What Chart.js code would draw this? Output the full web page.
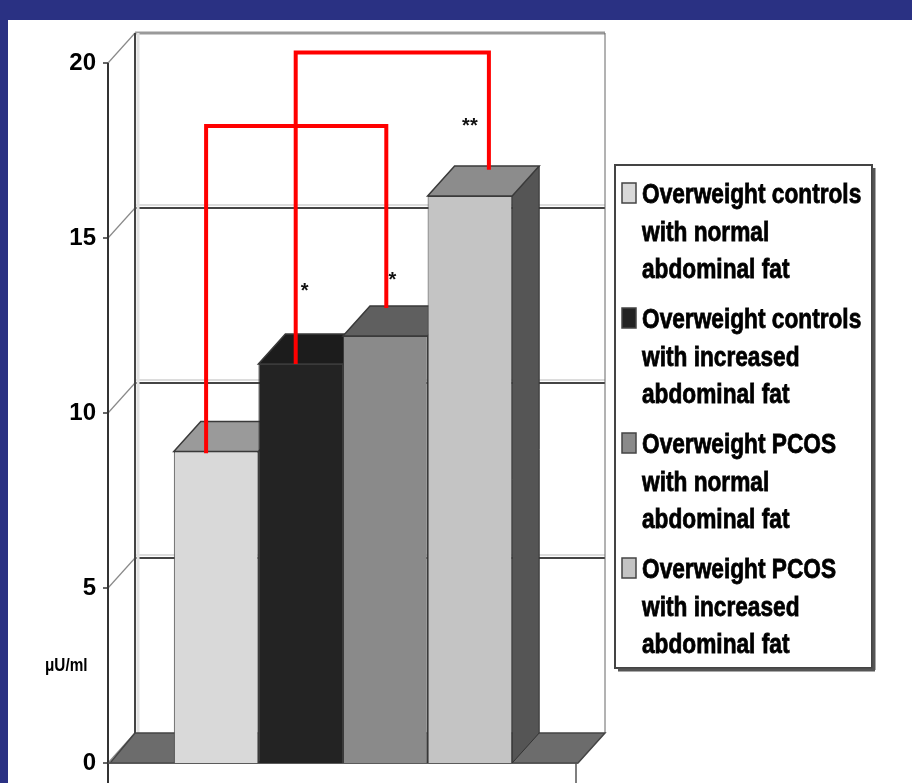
<!DOCTYPE html>
<html>
<head>
<meta charset="utf-8">
<script src="https://cdn.jsdelivr.net/npm/chart.js@4.4.1/dist/chart.umd.min.js"></script>
<style>
html, body { margin: 0; padding: 0; background: #2a3183; overflow: hidden; }
#wrap { width: 912px; height: 783px; }
</style>
</head>
<body>
<div id="wrap"><canvas id="c" width="912" height="783"></canvas></div>
<script>
// data
const groupLabels = [
    ['Overweight controls', 'with normal', 'abdominal fat'],
    ['Overweight controls', 'with increased', 'abdominal fat'],
    ['Overweight PCOS', 'with normal', 'abdominal fat'],
    ['Overweight PCOS', 'with increased', 'abdominal fat']
];
const insulinValues = [8.9, 11.4, 12.2, 16.2];
const yTicks = [0, 5, 10, 15, 20];
const unitLabel = 'μU/ml';
// significance brackets: from bar, to bar, in axis units
const bracketFrom = [0, 1];
const bracketTo = [2, 3];
const bracketStart = [8.85, 11.4];
const bracketTop = [18.2, 20.3];
const bracketEnd = [13.0, 16.95];
const starBar = [1, 2, 3];
const starValue = [13.6, 13.9, 18.3];
const starText = ['*', '*', '**'];

// styles
const frontColors = ['#d9d9d9', '#232323', '#8a8a8a', '#c4c4c4'];
const topColors = ['#9a9a9a', '#1c1c1c', '#5f5f5f', '#8c8c8c'];
const sideColors = ['#777777', '#111111', '#4a4a4a', '#555555'];
const bracketShift = [-10, -5, 1, 19];
const starShift = [5, 4, 7, 0];
const DX = 27, DY = -30;
const FONT = '"Liberation Sans", Arial, sans-serif';

function poly(ctx, pts, fill, stroke, lw) {
    ctx.beginPath();
    ctx.moveTo(pts[0][0], pts[0][1]);
    for (let k = 1; k < pts.length; k++) ctx.lineTo(pts[k][0], pts[k][1]);
    ctx.closePath();
    if (fill) { ctx.fillStyle = fill; ctx.fill(); }
    if (stroke) { ctx.strokeStyle = stroke; ctx.lineWidth = lw || 1; ctx.stroke(); }
}
function line(ctx, x1, y1, x2, y2, color, lw) {
    ctx.beginPath();
    ctx.moveTo(x1, y1);
    ctx.lineTo(x2, y2);
    ctx.strokeStyle = color;
    ctx.lineWidth = lw;
    ctx.stroke();
}

const scene = {
    id: 'scene',
    beforeDraw(chart) {
        const ctx = chart.ctx;
        const {left, right} = chart.chartArea;
        const ys = chart.scales.y;
        const base = ys.getPixelForValue(0);
        ctx.save();
        ctx.fillStyle = '#2a3183';
        ctx.fillRect(0, 0, chart.width, chart.height);
        ctx.fillStyle = '#ffffff';
        ctx.fillRect(8, 20, chart.width - 8, chart.height - 20);

        const top = ys.getPixelForValue(20);
        // back wall grid lines
        yTicks.forEach(v => {
            const py = ys.getPixelForValue(v) + DY;
            if (v === 20) {
                line(ctx, left + DX, py, right + DX, py, '#9a9a9a', 3);
            } else if (v > 0) {
                line(ctx, left + DX, py - 3, right + DX, py - 3, '#dcdcdc', 2);
                line(ctx, left + DX, py, right + DX, py, '#444444', 2);
            }
            // side wall diagonals and ticks
            line(ctx, left, ys.getPixelForValue(v), left + DX, py, '#8a8a8a', 1.2);
            line(ctx, left - 5, ys.getPixelForValue(v), left, ys.getPixelForValue(v), '#333333', 1.5);
        });
        // back wall edges
        line(ctx, left + DX + 3, top + DY, left + DX + 3, base + DY, '#e2e2e2', 3);
        line(ctx, left + DX, top + DY, left + DX, base + DY, '#444444', 2);
        line(ctx, right + DX, top + DY, right + DX, base + DY, '#666666', 1);
        // floor
        poly(ctx, [[left + 2, base], [right, base], [right + DX, base + DY], [left + DX, base + DY]], '#6c6c6c', '#444444', 1.5);
        // front axis and category edge ticks
        line(ctx, left, top, left, chart.height, '#333333', 2);
        line(ctx, right - 2, base, right - 2, chart.height, '#555555', 1.5);
        line(ctx, left, base, right, base, '#555555', 1.5);
        ctx.restore();
    },
    beforeDatasetsDraw(chart) {
        const ctx = chart.ctx;
        ctx.save();
        chart.data.datasets.forEach((ds, i) => {
            const bar = chart.getDatasetMeta(i).data[0];
            const p = bar.getProps(['x', 'y', 'base', 'width'], true);
            const l = p.x - p.width / 2, r = p.x + p.width / 2;
            poly(ctx, [[r, p.y], [r + DX, p.y + DY], [r + DX, p.base + DY], [r, p.base]], sideColors[i], '#333333', 1);
            poly(ctx, [[l, p.y], [l + DX, p.y + DY], [r + DX, p.y + DY], [r, p.y]], topColors[i], '#3a3a3a', 1.5);
        });
        ctx.restore();
    },
    afterDatasetsDraw(chart) {
        const ctx = chart.ctx;
        const ys = chart.scales.y;
        const cx = i => chart.getDatasetMeta(i).data[0].x;
        ctx.save();
        ctx.lineJoin = 'miter';
        ctx.lineCap = 'butt';
        bracketFrom.forEach((a, k) => {
            const b = bracketTo[k];
            const xa = cx(a) + bracketShift[a], xb = cx(b) + bracketShift[b];
            ctx.beginPath();
            ctx.moveTo(xa, ys.getPixelForValue(bracketStart[k]));
            ctx.lineTo(xa, ys.getPixelForValue(bracketTop[k]));
            ctx.lineTo(xb, ys.getPixelForValue(bracketTop[k]));
            ctx.lineTo(xb, ys.getPixelForValue(bracketEnd[k]));
            ctx.strokeStyle = '#ff0000';
            ctx.lineWidth = 4;
            ctx.stroke();
        });
        ctx.fillStyle = '#111111';
        ctx.font = 'bold 20px ' + FONT;
        ctx.textAlign = 'center';
        ctx.textBaseline = 'middle';
        starBar.forEach((b, k) => {
            ctx.fillText(starText[k], cx(b) + starShift[b], ys.getPixelForValue(starValue[k]) + 4);
        });
        ctx.restore();
    },
    afterDraw(chart) {
        const ctx = chart.ctx;
        ctx.save();
        // legend box
        const bx = 615, by = 165, bw = 257, bh = 503;
        ctx.fillStyle = '#ffffff';
        ctx.fillRect(bx, by, bw, bh);
        ctx.strokeStyle = '#444444';
        ctx.lineWidth = 2;
        ctx.strokeRect(bx, by, bw, bh);
        line(ctx, bx + bw + 2, by + 3, bx + bw + 2, by + bh + 2, '#555555', 3);
        line(ctx, bx + 3, by + bh + 2, bx + bw + 3, by + bh + 2, '#555555', 3);
        ctx.font = 'bold 28px ' + FONT;
        ctx.textBaseline = 'alphabetic';
        groupLabels.forEach((lines, i) => {
            const y0 = 203 + i * 125;
            ctx.fillStyle = frontColors[i];
            ctx.fillRect(622, y0 - 20, 14, 20);
            ctx.strokeStyle = '#444444';
            ctx.lineWidth = 1.5;
            ctx.strokeRect(622, y0 - 20, 14, 20);
            ctx.fillStyle = '#000000';
            ctx.strokeStyle = '#000000';
            ctx.lineWidth = 0.8;
            lines.forEach((t, j) => {
                ctx.save();
                ctx.translate(642, y0 + j * 37.5);
                ctx.scale(0.81, 1);
                ctx.fillText(t, 0, 0);
                ctx.strokeText(t, 0, 0);
                ctx.restore();
            });
        });
        // unit label
        ctx.save();
        ctx.translate(45, 671);
        ctx.scale(0.85, 1);
        ctx.font = 'bold 18px ' + FONT;
        ctx.fillStyle = '#000000';
        ctx.fillText(unitLabel, 0, 0);
        ctx.restore();
        ctx.restore();
    }
};

const ctx = document.getElementById('c').getContext('2d');
const chart = new Chart(ctx, {
    type: 'bar',
    data: {
        labels: [''],
        datasets: insulinValues.map((v, i) => ({
            label: groupLabels[i].join(' '),
            data: [v],
            backgroundColor: frontColors[i],
            borderColor: '#3a3a3a',
            borderWidth: 1,
            categoryPercentage: 0.72,
            barPercentage: 1
        }))
    },
    options: {
        responsive: false,
        animation: false,
        layout: { padding: { left: 0, right: 334, top: 63, bottom: 20 } },
        plugins: { legend: { display: false }, tooltip: { enabled: false } },
        scales: {
            x: { display: false },
            y: {
                min: 0,
                max: 20,
                afterFit(s) {
                    s.width = 108;
                    s.paddingTop = 0;
                    s.paddingBottom = 0;
                },
                afterBuildTicks(s) { s.ticks = yTicks.map(v => ({ value: v })); },
                grid: { display: false, drawTicks: false },
                border: { display: false },
                ticks: {
                    color: '#000000',
                    padding: 12,
                    font: { family: '"Liberation Sans Narrow", "Arial Narrow", "Liberation Sans", sans-serif', weight: 'bold', size: 24 }
                }
            }
        }
    },
    plugins: [scene]
});
</script>
</body>
</html>
